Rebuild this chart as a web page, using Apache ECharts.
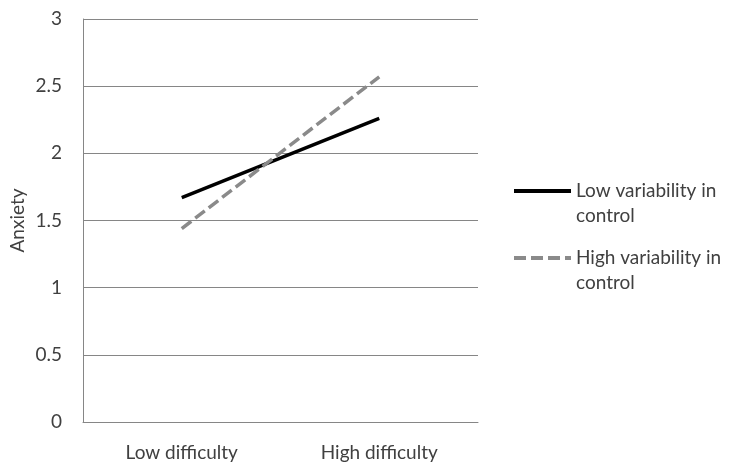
<!DOCTYPE html>
<html><head><meta charset="utf-8">
<script src="https://cdn.jsdelivr.net/npm/echarts@6/dist/echarts.min.js"></script>
<style>html,body{margin:0;padding:0;background:#fff}#c{width:736px;height:474px}</style>
</head><body><div id="c"></div>
<script>
const categories = ['Low difficulty', 'High difficulty'];
const lowVariability = [1.67, 2.26];
const highVariability = [1.44, 2.57];
const seriesNames = ['Low variability in control', 'High variability in control'];
const legendLabels = [' \nLow variability in\ncontrol', ' \nHigh variability in\ncontrol'];
const yTicks = { min: 0, max: 3, interval: 0.5 };

const FONT = 'Lato';
const TXT = '#404040';
const LH = 25;
const DASH = [12, 5];
const chart = echarts.init(document.getElementById('c'), null, { renderer: 'canvas' });
const legendCommon = {
  orient: 'vertical', left: 512, padding: 0, itemWidth: 57, itemHeight: 14, itemGap: 4,
  selectedMode: false,
  itemStyle: { opacity: 0 },
  lineStyle: { width: 4 },
  formatter: n => legendLabels[seriesNames.indexOf(n)],
  textStyle: { fontFamily: FONT, fontSize: 19, color: TXT, lineHeight: LH }
};
chart.setOption({
  animation: false,
  textStyle: { fontFamily: FONT },
  grid: { left: 83, right: 258, top: 19, bottom: 52, outerBoundsMode: 'none', containLabel: false },
  legend: [
    Object.assign({}, legendCommon, { data: [seriesNames[0]], top: 191 - 1.5 * LH }),
    Object.assign({}, legendCommon, { data: [seriesNames[1]], top: 258 - 1.5 * LH })
  ],
  xAxis: {
    type: 'category', data: categories, boundaryGap: true,
    axisLine: { lineStyle: { color: '#868686', width: 1 } },
    axisTick: { show: false },
    axisLabel: { fontFamily: FONT, fontSize: 19, color: TXT, margin: 21 }
  },
  yAxis: {
    type: 'value', min: yTicks.min, max: yTicks.max, interval: yTicks.interval,
    name: 'Anxiety', nameLocation: 'middle', nameRotate: 90, nameGap: 56, nameMoveOverlap: false,
    nameTextStyle: { fontFamily: FONT, fontSize: 19, color: TXT },
    axisLine: { show: true, lineStyle: { color: '#868686', width: 1 } },
    axisTick: { show: false },
    splitLine: { lineStyle: { color: '#868686', width: 1 } },
    axisLabel: { fontFamily: FONT, fontSize: 19, color: TXT, margin: 21 }
  },
  series: [
    { name: seriesNames[0], type: 'line', data: lowVariability, symbol: 'none',
      lineStyle: { color: '#000', width: 3.5 }, itemStyle: { color: '#000' } },
    { name: seriesNames[1], type: 'line', data: highVariability, symbol: 'none',
      lineStyle: { color: '#8a8a8a', width: 3.5, type: DASH }, itemStyle: { color: '#8a8a8a' } }
  ]
});
</script></body></html>
